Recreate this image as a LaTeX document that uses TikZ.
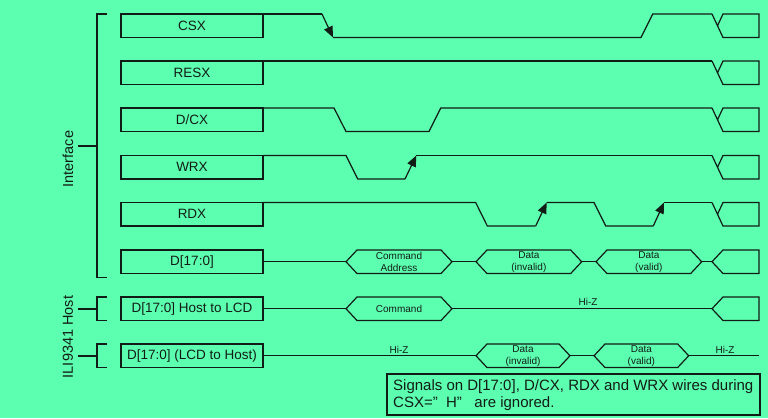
\documentclass[tikz,border=0pt]{standalone}
\usepackage{fontspec}
\setmainfont{Liberation Sans}
\usetikzlibrary{arrows.meta}
\definecolor{bg}{RGB}{92,255,176}
\definecolor{ink}{RGB}{18,28,22}
\newcommand\wavend[2]{%
  \draw[wave] (712,#1) -- (723,#2) -- (759,#2) -- (759,#1) -- (723,#1) -- (717.5,{(#1+#2)/2});}
\newcommand\busend[2]{%
  \draw[wave] (759,#1) -- (723,#1) -- (712,{(#1+#2)/2}) -- (723,#2) -- (759,#2) -- cycle;}
\newcommand\hexbus[6]{% name x1 x2 top bot text
  \draw[wave] (#2,{(#4+#5)/2}) -- ({#2+11},#4) -- ({#3-11},#4) -- (#3,{(#4+#5)/2}) -- ({#3-11},#5) -- ({#2+11},#5) -- cycle;
  \node[small] (#1) at ({(#2+#3)/2},{(#4+#5)/2}) {#6};}
\begin{document}
\begin{tikzpicture}[x=1pt,y=-1pt,
  wave/.style={draw=ink,line width=1.2pt,line join=miter},
  brk/.style={draw=ink,line width=1.5pt},
  arr/.style={wave,-{Triangle[length=11pt,width=9pt]}},
  lbl/.style={draw=ink,line width=1.2pt,minimum width=142pt,minimum height=23.5pt,inner sep=0pt,font=\fontsize{13.5}{14}\selectfont,text=ink},
  small/.style={font=\fontsize{10}{11.7}\selectfont,align=center,text=ink,inner sep=0pt},
  side/.style={font=\fontsize{14.5}{16}\selectfont,text=ink,rotate=90,inner sep=0pt},
  note/.style={font=\fontsize{15}{16}\selectfont,text=ink,inner sep=0pt,anchor=base west}]
\useasboundingbox (0,0) rectangle (768,418);
\fill[bg] (0,0) rectangle (768,418);

% brackets
\draw[brk] (107,14) -- (97,14) -- (97,277.5) -- (107,277.5);
\draw[brk] (78,146) -- (97,146);
\draw[brk] (107,297) -- (97,297) -- (97,320.5) -- (107,320.5);
\draw[brk] (78,309) -- (97,309);
\draw[brk] (107,344) -- (97,344) -- (97,367.5) -- (107,367.5);
\draw[brk] (78,356) -- (97,356);
\node[side] (iface) at (68,159) {Interface};
\node[side] (host) at (68,337) {ILI9341 Host};

% label boxes
\node[lbl] (csx) at (192,25.75) {CSX};
\node[lbl] (resx) at (192,72.75) {RESX};
\node[lbl] (dcx) at (192,119.75) {D/CX};
\node[lbl] (wrx) at (192,167.25) {WRX};
\node[lbl] (rdx) at (192,214.25) {RDX};
\node[lbl] (dat) at (192,261.75) {D[17:0]};
\node[lbl] (h2l) at (192,308.75) {D[17:0] Host to LCD};
\node[lbl] (l2h) at (192,355.75) {D[17:0] (LCD to Host)};

% CSX
\draw[wave] (263,14) -- (322,14);
\draw[arr] (322,14) -- (333,37.5);
\draw[wave] (333,37.5) -- (641,37.5) -- (652.7,14) -- (712,14);
\wavend{14}{37.5}
% RESX
\draw[wave] (263,61) -- (712,61);
\wavend{61}{84.5}
% D/CX
\draw[wave] (263,108) -- (334,108) -- (346,131.5) -- (429,131.5) -- (440.7,108) -- (712,108);
\wavend{108}{131.5}
% WRX
\draw[wave] (263,155.5) -- (346,155.5) -- (357.7,179) -- (405,179);
\draw[arr] (405,179) -- (416.3,155.5);
\draw[wave] (416.3,155.5) -- (712,155.5);
\wavend{155.5}{179}
% RDX
\draw[wave] (263,202.5) -- (475.7,202.5) -- (487.3,226) -- (535.7,226);
\draw[arr] (535.7,226) -- (546.7,202.5);
\draw[wave] (546.7,202.5) -- (594,202.5) -- (605.7,226) -- (653.3,226);
\draw[arr] (653.3,226) -- (664,202.5);
\draw[wave] (664,202.5) -- (712,202.5);
\wavend{202.5}{226}

% D[17:0]
\draw[wave] (263,261.75) -- (346,261.75);
\hexbus{ca}{346}{452}{250}{273.5}{Command\\Address}
\draw[wave] (452,261.75) -- (476,261.75);
\hexbus{di}{476}{581.7}{250}{273.5}{Data\\(invalid)}
\draw[wave] (581.7,261.75) -- (596,261.75);
\hexbus{dv}{596}{701.7}{250}{273.5}{Data\\(valid)}
\draw[wave] (701.7,261.75) -- (712,261.75);
\busend{250}{273.5}

% Host to LCD
\draw[wave] (263,308.75) -- (346,308.75);
\hexbus{cmd}{346}{452}{297}{320.5}{Command}
\draw[wave] (452,308.75) -- (712,308.75);
\node[small] (hz1) at (588,302) {Hi-Z};
\busend{297}{320.5}

% LCD to Host
\draw[wave] (263,355.75) -- (476,355.75);
\node[small] (hz2) at (399,349.5) {Hi-Z};
\hexbus{li}{476}{570}{344}{367.5}{Data\\(invalid)}
\draw[wave] (570,355.75) -- (594,355.75);
\hexbus{lv}{594}{688.7}{344}{367.5}{Data\\(valid)}
\draw[wave] (688.7,355.75) -- (759,355.75);
\node[small] (hz3) at (725,349.5) {Hi-Z};

% note
\draw[wave] (387,374) rectangle (760,415);
\node[note] (n1) at (393,390.7) {Signals on D[17:0], D/CX, RDX and WRX wires during};
\node[note] (n2) at (393,407.3) {CSX=”\ \ H”\ \ \ are ignored.};
\end{tikzpicture}
\end{document}
